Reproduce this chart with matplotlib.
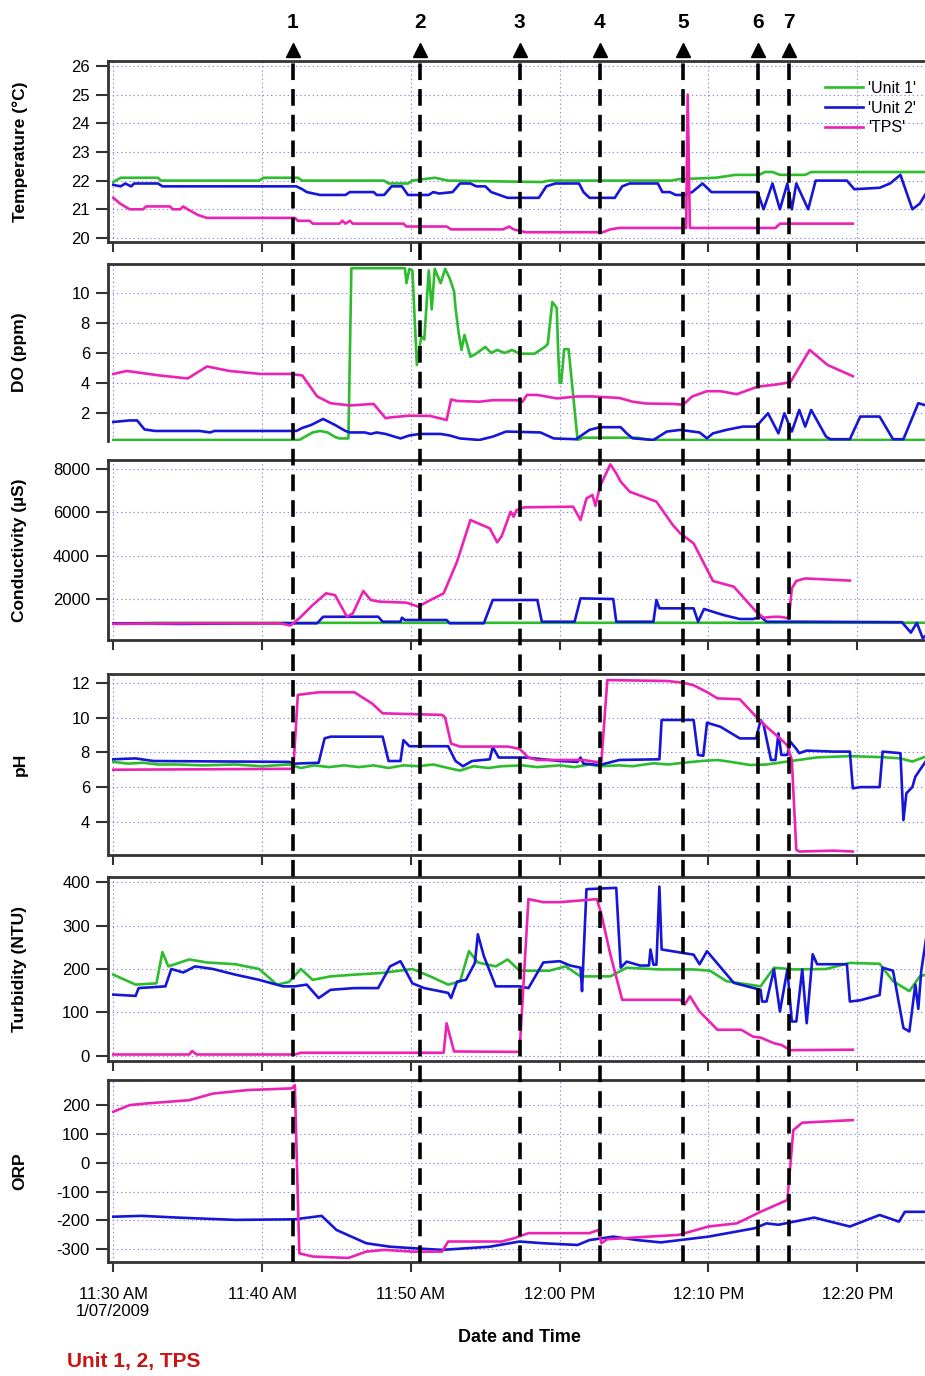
import numpy as np
import matplotlib
matplotlib.use('Agg')
import matplotlib.pyplot as plt

plt.rcParams['font.family'] = ['Liberation Sans', 'DejaVu Sans']
plt.rcParams['axes.unicode_minus'] = False
plt.rcParams['lines.scale_dashes'] = False

# time axis: minutes after 11:30 AM on 1/07/2009
tick_minutes = [0, 10, 20, 30, 40, 50]
tick_labels = ['11:30 AM\n1/07/2009', '11:40 AM', '11:50 AM', '12:00 PM', '12:10 PM', '12:20 PM']

# numbered events (dashed arrows)
event_minutes = [12.05, 20.6, 27.3, 32.7, 38.3, 43.3, 45.4]
event_labels = ['1', '2', '3', '4', '5', '6', '7']

series_names = ["'Unit 1'", "'Unit 2'", "'TPS'"]
series_colors = ['#2cbc2c', '#1616d8', '#ec22b4']

# ---- data: [minute, value] ----
temp_unit1 = np.array([
    [0, 21.95], [0.5, 22.1], [3.0, 22.1], [3.2, 22.0], [9.8, 22.0], [10.1, 22.1], [12.4, 22.1],
    [12.7, 22.0], [18.2, 22.0], [18.5, 21.9], [19.8, 21.9], [20.1, 22.0], [21.6, 22.1], [22.5, 22.0],
    [28.8, 21.95], [29.3, 22.0], [37.5, 22.0], [38.0, 22.05], [40.5, 22.1], [41.8, 22.2], [43.4, 22.2],
    [43.8, 22.3], [44.3, 22.3], [44.8, 22.2], [46.5, 22.2], [46.9, 22.3], [54.9, 22.3]])
temp_unit2 = np.array([
    [0, 21.85], [0.5, 21.8], [0.8, 21.9], [1.2, 21.8], [1.4, 21.9], [3.0, 21.9], [3.3, 21.8],
    [12.3, 21.8], [12.7, 21.7], [13.0, 21.6], [13.9, 21.5], [15.6, 21.5], [15.9, 21.6], [17.5, 21.6],
    [17.7, 21.5], [18.2, 21.5], [18.7, 21.8], [19.4, 21.8], [19.8, 21.5], [21.2, 21.5], [21.5, 21.6],
    [21.9, 21.55], [22.8, 21.6], [23.3, 21.9], [24.0, 21.9], [24.4, 21.8], [25.0, 21.8], [25.4, 21.6],
    [26.5, 21.4], [28.6, 21.4], [29.1, 21.8], [29.7, 21.9], [31.3, 21.9], [31.6, 21.6], [32.0, 21.4],
    [33.7, 21.4], [34.2, 21.8], [34.7, 21.9], [36.6, 21.9], [36.9, 21.6], [37.4, 21.6], [37.8, 21.5],
    [38.4, 21.5], [38.9, 21.6], [39.6, 21.9], [40.2, 21.6], [43.3, 21.6], [43.7, 21.0], [44.3, 21.9],
    [44.8, 21.0], [45.3, 21.9], [45.6, 21.0], [45.9, 21.9], [46.7, 21.0], [47.2, 22.0], [49.3, 22.0],
    [49.8, 21.7], [51.5, 21.75], [52.2, 21.9], [52.9, 22.2], [53.7, 21.0], [54.2, 21.2], [54.9, 21.8]])
temp_tps = np.array([
    [0, 21.4], [0.45, 21.2], [1.1, 21.0], [2.0, 21.0], [2.2, 21.1], [3.8, 21.1], [4.0, 21.0],
    [4.5, 21.0], [4.7, 21.1], [5.0, 21.0], [5.7, 20.8], [6.3, 20.7], [12.2, 20.7], [12.4, 20.6],
    [13.2, 20.6], [13.4, 20.5], [15.2, 20.5], [15.4, 20.6], [15.6, 20.5], [15.9, 20.6], [16.1, 20.5],
    [19.5, 20.5], [19.7, 20.4], [22.4, 20.4], [22.7, 20.3], [26.2, 20.3], [26.6, 20.4], [26.9, 20.3],
    [27.7, 20.2], [32.9, 20.2], [33.4, 20.3], [34.0, 20.35], [38.5, 20.35], [38.6, 25.0],
    [38.75, 20.35], [44.5, 20.35], [44.8, 20.5], [49.7, 20.5]])

do_unit1 = np.array([
    [0, 0.2], [12.5, 0.2], [13.4, 0.7], [13.9, 0.8], [14.4, 0.7], [14.9, 0.4], [15.2, 0.3], [15.8, 0.3],
    [16.0, 11.65], [19.6, 11.65], [19.7, 10.65], [19.9, 11.6], [20.1, 11.5], [20.4, 5.2], [20.7, 7.1],
    [20.9, 6.9], [21.2, 11.5], [21.4, 8.9], [21.6, 11.6], [22.0, 10.65], [22.3, 11.6], [22.6, 11.0],
    [22.9, 10.1], [23.0, 9.0], [23.2, 7.4], [23.4, 6.2], [23.6, 7.2], [24.0, 5.75], [24.3, 5.9],
    [25.0, 6.4], [25.4, 6.0], [25.8, 6.2], [26.3, 6.0], [26.8, 6.2], [27.3, 5.95], [28.3, 5.95],
    [29.0, 6.4], [29.2, 6.6], [29.5, 9.4], [29.8, 9.0], [29.9, 6.0], [30.0, 4.0], [30.1, 4.0],
    [30.3, 6.25], [30.6, 6.25], [31.2, 0.2], [31.6, 0.35], [35.2, 0.35], [36.1, 0.2], [54.9, 0.2]])
do_unit2 = np.array([
    [0, 1.4], [1.1, 1.5], [1.6, 1.5], [2.1, 0.9], [2.8, 0.8], [5.8, 0.8], [6.5, 0.7], [6.8, 0.8],
    [12.3, 0.8], [12.7, 1.0], [13.3, 1.2], [14.1, 1.6], [14.9, 1.2], [15.6, 0.8], [15.9, 0.7],
    [16.9, 0.7], [17.3, 0.6], [17.7, 0.7], [18.3, 0.6], [19.3, 0.3], [19.9, 0.5], [20.6, 0.6],
    [22.0, 0.6], [22.6, 0.5], [23.3, 0.3], [24.6, 0.2], [25.5, 0.42], [26.4, 0.76], [28.7, 0.7],
    [29.6, 0.3], [31.1, 0.25], [32.0, 0.87], [32.7, 1.05], [34.1, 1.05], [34.5, 0.64], [34.9, 0.31],
    [36.3, 0.2], [37.2, 0.76], [38.1, 0.87], [39.4, 0.7], [39.9, 0.31], [40.3, 0.64], [41.2, 0.87],
    [42.3, 1.09], [43.2, 1.09], [44.0, 1.98], [44.7, 0.64], [45.1, 1.98], [45.6, 0.76], [46.1, 2.2],
    [46.5, 1.09], [46.9, 2.2], [47.9, 0.42], [48.2, 0.25], [49.5, 0.25], [50.2, 1.76], [51.5, 1.76],
    [52.4, 0.25], [53.1, 0.25], [54.1, 2.65], [54.9, 2.42]])
do_tps = np.array([
    [0, 4.6], [0.9, 4.8], [3.1, 4.5], [5.0, 4.3], [6.3, 5.1], [7.8, 4.8], [9.9, 4.6], [11.9, 4.6],
    [12.7, 4.5], [13.7, 3.1], [14.6, 2.65], [15.9, 2.5], [17.5, 2.6], [18.3, 1.65], [18.6, 1.7],
    [19.9, 1.82], [21.3, 1.8], [22.4, 1.53], [22.7, 2.9], [23.1, 2.8], [24.6, 2.75], [25.5, 2.85],
    [27.1, 2.85], [27.5, 2.75], [27.8, 3.2], [28.5, 3.2], [29.8, 2.97], [31.2, 3.1], [32.2, 3.1],
    [34.0, 3.0], [34.9, 2.75], [35.8, 2.63], [37.6, 2.6], [38.3, 2.55], [38.9, 3.1], [39.9, 3.45],
    [40.8, 3.45], [41.9, 3.25], [42.6, 3.5], [43.3, 3.75], [44.6, 3.9], [45.5, 4.05], [46.8, 6.2],
    [48.0, 5.2], [49.7, 4.45]])

cond_unit1 = np.array([[0, 870], [3, 900], [54.9, 905]])
cond_unit2 = np.array([
    [0, 880], [4.3, 850], [10, 880], [13.7, 880], [14.1, 1180], [17.8, 1184], [18.1, 953], [19.3, 953],
    [19.4, 1138], [19.6, 1032], [22.4, 1032], [22.6, 880], [24.9, 880], [25.5, 1955], [28.5, 1955],
    [28.8, 953], [31.0, 953], [31.4, 2030], [33.6, 2000], [33.8, 953], [36.3, 953], [36.5, 1955],
    [36.7, 1570], [39.0, 1570], [39.3, 953], [39.7, 1540], [41.0, 1262], [42.1, 1078], [43.0, 1078],
    [43.5, 1184], [43.9, 953], [46.2, 953], [53.0, 930], [53.6, 450], [54.0, 900], [54.4, 190],
    [54.9, 500]])
cond_tps = np.array([
    [0, 850], [5, 880], [11.2, 880], [11.9, 780], [12.5, 1108], [13.4, 1724], [14.3, 2262],
    [14.9, 2180], [15.7, 1184], [16.1, 1338], [16.8, 2370], [17.3, 1955], [17.9, 1878], [19.7, 1832],
    [20.5, 1647], [21.1, 1878], [22.2, 2262], [23.1, 3723], [24.0, 5646], [25.3, 5262], [25.8, 4616],
    [26.1, 4900], [26.7, 6031], [26.9, 5800], [27.1, 6100], [27.6, 6231], [30.9, 6262], [31.4, 5646],
    [31.8, 6646], [32.2, 6800], [32.4, 6300], [32.7, 7185], [33.4, 8215], [33.8, 7800], [34.1, 7416],
    [34.7, 6954], [36.5, 6493], [37.6, 5416], [38.1, 5031], [39.0, 4570], [40.3, 2832], [41.7, 2570],
    [42.6, 1878], [43.2, 1416], [43.7, 1138], [44.4, 1180], [44.8, 1180], [45.4, 1108], [45.6, 2493],
    [45.9, 2832], [46.5, 2950], [48.0, 2900], [49.5, 2850]])

ph_unit1 = np.array([
    [0, 7.45], [1, 7.35], [2, 7.4], [3, 7.3], [4.3, 7.3], [6, 7.25], [8.2, 7.3], [10, 7.2], [11.8, 7.3],
    [12.6, 7.1], [13.5, 7.25], [14.5, 7.15], [15.5, 7.25], [16.5, 7.15], [17.5, 7.25], [18.5, 7.1],
    [19.5, 7.25], [20.5, 7.2], [21.5, 7.3], [22.5, 7.1], [23.3, 6.95], [24.2, 7.2], [25.2, 7.1],
    [26.1, 7.2], [27.5, 7.25], [28.5, 7.15], [30.0, 7.25], [31.0, 7.15], [32.0, 7.3], [32.7, 7.2],
    [34.0, 7.25], [34.9, 7.2], [36.3, 7.37], [37.3, 7.3], [38.3, 7.4], [39.5, 7.5], [40.6, 7.56],
    [41.5, 7.45], [42.8, 7.27], [43.9, 7.3], [45.3, 7.47], [47.3, 7.71], [49.5, 7.78], [51.7, 7.72],
    [52.9, 7.65], [53.7, 7.47], [54.9, 7.85]])
ph_unit2 = np.array([
    [0, 7.6], [1.5, 7.65], [2.7, 7.5], [11.8, 7.45], [12.2, 7.35], [13.8, 7.4], [14.2, 8.8], [14.6, 8.9],
    [18.1, 8.9], [18.5, 7.5], [19.3, 7.5], [19.5, 8.7], [19.9, 8.35], [22.5, 8.35], [23.0, 7.5],
    [23.5, 7.2], [24.1, 7.5], [25.3, 7.6], [25.5, 8.3], [25.9, 7.7], [27.7, 7.7], [28.9, 7.6],
    [30.0, 7.5], [31.2, 7.45], [31.4, 7.7], [31.6, 7.35], [32.7, 7.27], [34.0, 7.56], [36.7, 7.6],
    [36.85, 9.86], [39.0, 9.86], [39.3, 7.85], [39.65, 7.8], [39.9, 9.7], [40.8, 9.47], [42.1, 8.8],
    [43.2, 8.8], [43.5, 9.86], [43.7, 9.6], [44.2, 7.56], [44.5, 7.56], [44.7, 9.09], [44.9, 7.85],
    [45.3, 7.85], [45.5, 8.61], [45.7, 8.4], [45.9, 8.2], [46.1, 7.95], [46.6, 8.1], [48.4, 8.04],
    [49.5, 8.04], [49.7, 5.93], [50.2, 6.0], [51.5, 6.0], [51.7, 8.04], [52.9, 7.95], [53.1, 4.1],
    [53.3, 5.65], [53.7, 6.0], [53.9, 6.6], [54.2, 6.98], [54.9, 7.85]])
ph_tps = np.array([
    [0, 7.0], [11.9, 7.05], [12.1, 7.05], [12.4, 11.3], [13.8, 11.45], [16.2, 11.45], [17.4, 10.8],
    [18.1, 10.24], [22.1, 10.15], [22.3, 10.0], [22.7, 8.5], [23.3, 8.33], [26.5, 8.33], [27.3, 8.2],
    [27.9, 7.7], [28.5, 7.56], [31.6, 7.56], [32.4, 7.45], [32.8, 7.45], [33.2, 12.15], [37.2, 12.1],
    [38.3, 12.0], [39.0, 11.85], [39.9, 11.46], [40.6, 11.1], [42.1, 11.05], [43.2, 10.05],
    [43.9, 9.47], [44.8, 8.8], [45.3, 8.4], [45.6, 7.56], [45.9, 2.4], [46.1, 2.3], [48.4, 2.35],
    [49.7, 2.3]])

turb_unit1 = np.array([
    [0, 187], [1.5, 164], [2.9, 167], [3.3, 239], [3.7, 206], [5.1, 222], [6.3, 215], [8.2, 211],
    [9.8, 200], [11.0, 164], [11.8, 170], [12.6, 200], [13.4, 175], [14.6, 183], [16.2, 187],
    [18.1, 191], [20.1, 200], [21.3, 183], [22.5, 164], [23.3, 171], [23.9, 241], [24.5, 215],
    [25.7, 206], [26.5, 222], [27.3, 196], [29.3, 196], [30.4, 206], [31.4, 183], [33.4, 183],
    [34.5, 203], [36.7, 199], [39.0, 199], [40.1, 196], [41.2, 172], [43.5, 160], [44.4, 203],
    [45.7, 199], [47.9, 200], [49.5, 214], [51.5, 212], [52.4, 172], [53.5, 149], [54.2, 183],
    [54.9, 190]])
turb_unit2 = np.array([
    [0, 141], [1.5, 138], [1.7, 156], [3.5, 160], [3.9, 200], [4.7, 192], [5.5, 206], [6.7, 200],
    [8.2, 187], [9.8, 175], [11.4, 160], [12.2, 160], [13.0, 164], [13.8, 133], [14.6, 152],
    [16.2, 156], [17.8, 156], [18.6, 206], [19.3, 218], [20.1, 167], [20.9, 156], [22.5, 145],
    [22.7, 133], [23.1, 171], [23.7, 175], [24.3, 214], [24.5, 280], [24.9, 230], [25.7, 160],
    [27.3, 160], [27.9, 156], [28.9, 215], [30.0, 218], [30.7, 208], [31.4, 203], [31.5, 149],
    [31.8, 384], [33.8, 387], [34.1, 203], [34.5, 217], [35.4, 208], [36.0, 208], [36.1, 245],
    [36.3, 210], [36.5, 210], [36.7, 390], [36.85, 245], [38.1, 238], [39.0, 233], [39.4, 211],
    [39.9, 241], [41.7, 168], [43.5, 152], [43.6, 125], [43.9, 125], [44.4, 199], [44.8, 102],
    [45.3, 199], [45.6, 79], [45.9, 79], [46.3, 199], [46.6, 75], [47.0, 234], [47.3, 211],
    [49.3, 211], [49.5, 125], [50.2, 128], [51.5, 140], [51.7, 203], [52.4, 196], [53.1, 64],
    [53.5, 56], [53.9, 164], [54.1, 108], [54.3, 196], [54.9, 334]])
turb_tps = np.array([
    [0, 3], [5.1, 3], [5.3, 11], [5.6, 3], [12.2, 3], [12.6, 7], [22.2, 7], [22.4, 75], [22.9, 10],
    [27.3, 9], [27.9, 361], [28.9, 354], [30.0, 354], [32.5, 361], [32.8, 326], [33.4, 234],
    [34.2, 129], [38.1, 129], [38.4, 118], [38.75, 137], [39.4, 102], [40.6, 60], [42.2, 60],
    [43.0, 44], [43.5, 42], [44.4, 29], [44.9, 25], [45.5, 13], [49.7, 14]])

orp_unit2 = np.array([
    [0, -187], [1.9, -184], [4.3, -190], [8.2, -198], [12.2, -196], [14.0, -184], [15.0, -233],
    [17.0, -279], [18.6, -291], [20.1, -296], [22.1, -302], [25.3, -291], [27.3, -273], [28.9, -279],
    [31.2, -285], [32.0, -268], [33.6, -256], [34.4, -262], [35.2, -268], [36.8, -276], [40.0, -256],
    [43.1, -227], [43.9, -210], [44.7, -215], [47.1, -190], [49.5, -221], [50.3, -205], [51.5, -181],
    [52.8, -204], [53.2, -170], [54.9, -170]])
orp_tps = np.array([
    [0, 177], [1.1, 200], [2.3, 206], [5.1, 217], [6.7, 240], [9.0, 252], [12.0, 258], [12.2, 269],
    [12.5, -314], [13.4, -325], [15.8, -330], [17.0, -308], [18.2, -302], [20.1, -308], [22.1, -308],
    [22.5, -273], [26.1, -273], [26.9, -262], [27.9, -244], [32.0, -244], [32.6, -233], [32.8, -279],
    [33.2, -265], [36.0, -256], [38.0, -250], [40.0, -221], [41.9, -210], [43.5, -170], [45.3, -129],
    [45.7, 113], [46.3, 139], [49.7, 148]])

panels = [
    ('Temperature (°C)', [temp_unit1, temp_unit2, temp_tps], (19.86, 26.17), range(20, 27)),
    ('DO (ppm)', [do_unit1, do_unit2, do_tps], (0.13, 11.93), [2, 4, 6, 8, 10]),
    ('Conductivity (µS)', [cond_unit1, cond_unit2, cond_tps], (109, 8415), [2000, 4000, 6000, 8000]),
    ('pH', [ph_unit1, ph_unit2, ph_tps], (2.1, 12.5), [4, 6, 8, 10, 12]),
    ('Turbidity (NTU)', [turb_unit1, turb_unit2, turb_tps], (-12, 412), [0, 100, 200, 300, 400]),
    ('ORP', [None, orp_unit2, orp_tps], (-344, 287), [-300, -200, -100, 0, 100, 200]),
]

# ---- layout (pixels of the 925x1376 figure) ----
W, H = 925, 1376
left, right = 108, 930
panel_px = [(61, 242), (264, 441), (460, 640), (674, 855), (877, 1061), (1080, 1262)]
x0_px, px_per_min = 113.3, 14.88
xlim = ((left - x0_px) / px_per_min, (right - x0_px) / px_per_min)
frame_col = '#333333'

fig = plt.figure(figsize=(W / 100, H / 100), dpi=100)
axes = []
for (label, series, ylim, yticks), (top, bot) in zip(panels, panel_px):
    ax = fig.add_axes([left / W, 1 - bot / H, (right - left) / W, (bot - top) / H])
    for data, name, col in zip(series, series_names, series_colors):
        if data is None:
            continue
        ax.plot(data[:, 0], data[:, 1], color=col, lw=1.9, label=name, solid_joinstyle='round')
    ax.set_xlim(xlim)
    ax.set_ylim(ylim)
    ax.set_yticks(list(yticks))
    ax.set_xticks(tick_minutes)
    ax.grid(True, linestyle=(0, (1, 2)), color='#8c8ce6', lw=0.8)
    ax.set_axisbelow(True)
    ax.tick_params(axis='y', direction='out', length=9, width=1.5, labelsize=12, pad=4, color=frame_col)
    ax.tick_params(axis='x', direction='out', length=7, width=1.5, labelsize=12, pad=11, color=frame_col,
                   labelbottom=False)
    for s in ax.spines.values():
        s.set_linewidth(2)
        s.set_color(frame_col)
    ax.set_ylabel(label, fontsize=12.5, fontweight='bold', ha='center', va='center')
    ax.yaxis.set_label_coords((20 - left) / (right - left), 0.5)
    axes.append(ax)

# DO panel has no bottom axis
axes[1].spines['bottom'].set_visible(False)
axes[1].tick_params(axis='x', bottom=False)

# legend in the temperature panel
axes[0].legend(loc='upper left', bbox_to_anchor=((825 - left) / (right - left), 0.89), frameon=False,
               fontsize=11.5, handlelength=2.4, handletextpad=0.3, labelspacing=0.3, borderpad=0,
               borderaxespad=0)

# bottom axis labels
ax = axes[-1]
ax.tick_params(axis='x', labelbottom=True)
ax.set_xticklabels(tick_labels)
ax.set_xlabel('Date and Time', fontsize=13, fontweight='bold', va='center')
ax.xaxis.set_label_coords(0.5, -(1337 - 1262) / (1262 - 1080))

# dashed event markers spanning all panels
ov_top, ov_bot = 43, 1262
ov = fig.add_axes([left / W, 1 - ov_bot / H, (right - left) / W, (ov_bot - ov_top) / H])
ov.set_xlim(xlim)
ov.set_ylim(0, 1)
ov.set_axis_off()
span = ov_bot - ov_top
for t, lab in zip(event_minutes, event_labels):
    ov.plot([t, t], [0, 1 - 12 / span], color='black', lw=2.6, dashes=(12, 6.5))
    ov.plot([t], [1 - 6.5 / span], marker='^', markersize=10, color='black', clip_on=False)
    ov.text(t, 1 + 20 / span, lab, ha='center', va='center', fontsize=15, fontweight='bold',
            clip_on=False)

fig.text(67 / W, 1 - 1362 / H, 'Unit 1, 2, TPS', color='#c81414', fontsize=15, fontweight='bold',
         va='center', ha='left')

fig.savefig('out.png', dpi=100)
